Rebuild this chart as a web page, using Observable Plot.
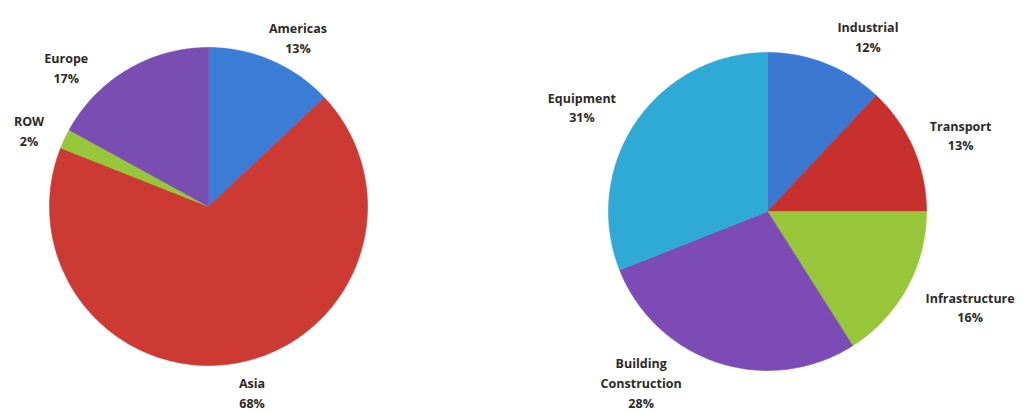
<!DOCTYPE html>
<html>
<head>
<meta charset="utf-8">
<script src="https://cdn.jsdelivr.net/npm/d3@7"></script>
<script src="https://cdn.jsdelivr.net/npm/@observablehq/plot@0.6"></script>
<style>
  html, body { margin: 0; padding: 0; background: #fff; }
  #chart svg { display: block; }
</style>
</head>
<body>
<div id="chart"></div>
<script>
// ---- Data ----
const regionNames  = ["Americas", "Asia", "ROW", "Europe"];
const regionValues = [13, 68, 2, 17];
const appNames  = ["Industrial", "Transport", "Infrastructure", "Building\nConstruction", "Equipment"];
const appValues = [12, 13, 16, 28, 31];

// ---- Styles / layout ----
const regionColors = ["#3A7CD6", "#CC3A33", "#96C63A", "#7A4DB2"];
const appColors    = ["#3A78D2", "#C8302E", "#98C63A", "#7C4BB5", "#2FA9D6"];
const W = 1023, H = 412;
const pies = [
  {names: regionNames, values: regionValues, colors: regionColors, cx: 208, cy: 206, r: 159, lr: 195,
   nudge: [[12, 9], [7, -6], [-3, 6], [-43, 28]]},
  {names: appNames, values: appValues, colors: appColors, cx: 767, cy: 211, r: 159, lr: 205,
   nudge: [[25, 15], [5, 4], [23, -4], [-63, -25], [-16, 10]]}
];

// ---- Build slice polygons and labels from the values ----
const slicePts = [];
const labels = [];
const colorDomain = [], colorRange = [];
pies.forEach((p, pi) => {
  const total = d3.sum(p.values);
  let acc = 0;
  p.values.forEach((v, i) => {
    const a0 = acc / total * 2 * Math.PI;
    acc += v;
    const a1 = acc / total * 2 * Math.PI;
    const key = p.names[i];
    colorDomain.push(key); colorRange.push(p.colors[i]);
    const id = pi + "-" + i;
    slicePts.push({id, key, x: p.cx, y: p.cy});
    const n = Math.max(2, Math.ceil((a1 - a0) / (Math.PI / 180)));
    for (let k = 0; k <= n; k++) {
      const a = a0 + (a1 - a0) * k / n;
      slicePts.push({id, key, x: p.cx + p.r * Math.sin(a), y: p.cy - p.r * Math.cos(a)});
    }
    slicePts.push({id, key, x: p.cx, y: p.cy});
    const am = (a0 + a1) / 2;
    labels.push({
      text: key + "\n" + v + "%",
      x: p.cx + p.lr * Math.sin(am) + p.nudge[i][0],
      y: p.cy - p.lr * Math.cos(am) + p.nudge[i][1]
    });
  });
});

const chart = Plot.plot({
  width: W,
  height: H,
  margin: 0,
  x: {domain: [0, W], range: [0, W], axis: null},
  y: {domain: [0, H], range: [0, H], axis: null},
  color: {domain: colorDomain, range: colorRange},
  style: {background: "#fff"},
  marks: [
    Plot.line(slicePts, {x: "x", y: "y", z: "id", fill: "key", stroke: "key", strokeWidth: 0.6, curve: "linear"}),
    Plot.text(labels, {
      x: "x", y: "y", text: "text",
      fontFamily: "'Open Sans', Lato, sans-serif",
      fontWeight: "bold", fontSize: 12.5, lineHeight: 1.58,
      fill: "#2a2a2a", textAnchor: "middle"
    })
  ]
});
document.getElementById("chart").appendChild(chart);
</script>
</body>
</html>
